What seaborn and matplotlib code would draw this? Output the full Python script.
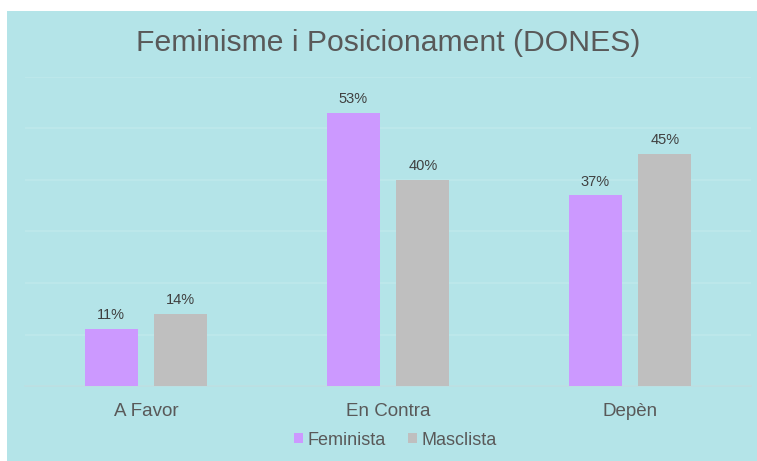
import matplotlib
matplotlib.use("Agg")
import matplotlib.pyplot as plt
import seaborn as sns
import pandas as pd
from matplotlib.patches import Rectangle

categories = ["A Favor", "En Contra", "Depèn"]
series = ["Feminista", "Masclista"]
feminista = [11, 53, 37]
masclista = [14, 40, 45]
colors = ["#cc99ff", "#bfbfbf"]

df = pd.DataFrame({
    "cat": categories * 2,
    "serie": [series[0]] * 3 + [series[1]] * 3,
    "val": feminista + masclista,
})

sns.set_theme(style="white")
plt.rcParams["font.family"] = ["Liberation Sans", "DejaVu Sans"]

bg = "#b4e4e8"
fig = plt.figure(figsize=(7.57, 4.61), dpi=100, facecolor="white")
fig.patches.append(Rectangle((7 / 757, 0), 1, 1 - 11 / 461, transform=fig.transFigure,
                             facecolor=bg, edgecolor="none", zorder=-10))
ax = fig.add_axes([25 / 757, 1 - 386 / 461, 726 / 757, (386 - 77) / 461])
ax.set_facecolor(bg)

sns.barplot(data=df, x="cat", y="val", hue="serie", palette=colors, width=0.575,
            gap=0.24, ax=ax, saturation=1, legend=True, zorder=3, linewidth=0,
            edgecolor="none")

ax.set_ylim(0, 60)
ax.set_yticks(range(0, 61, 10))
ax.yaxis.grid(True, color="#bee8eb", linewidth=1.2, zorder=0)
ax.set_axisbelow(True)
ax.tick_params(axis="y", left=False, labelleft=False)
ax.tick_params(axis="x", bottom=False, labelsize=13.5, colors="#595959", pad=6)
for s in ["top", "right", "left"]:
    ax.spines[s].set_visible(False)
ax.spines["bottom"].set_color("#bddfe2")
ax.set_xlabel("")
ax.set_ylabel("")
ax.set_xlim(-0.5, 2.5)

for cont in ax.containers:
    ax.bar_label(cont, labels=[f"{int(v)}%" for v in cont.datavalues],
                 padding=5, fontsize=10.5, color="#404040")

leg = ax.legend(loc="upper center", bbox_to_anchor=(0.51, -0.095), ncol=2, frameon=False,
                fontsize=13, handlelength=0.5, handleheight=0.5, handletextpad=0.25,
                columnspacing=1.2)
for t in leg.get_texts():
    t.set_color("#595959")

fig.text(388 / 757, 1 - 43 / 461, "Feminisme i Posicionament (DONES)", ha="center", va="center",
         fontsize=21.7, color="#595959")

fig.savefig("out.png", dpi=100, facecolor="white")
